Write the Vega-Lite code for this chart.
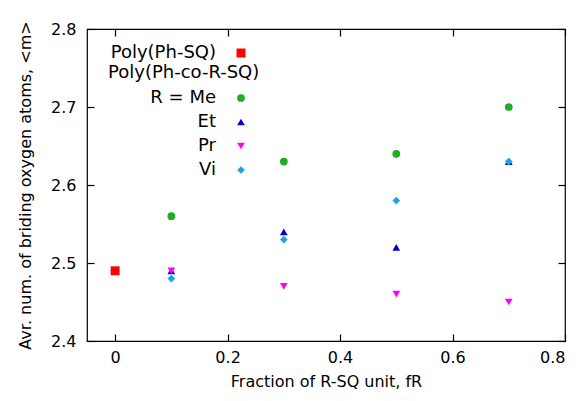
{
  "$schema": "https://vega.github.io/schema/vega-lite/v6.json",
  "width": 478,
  "height": 312,
  "autosize": {"type": "none"},
  "padding": {"left": 87, "top": 29, "right": 20, "bottom": 60},
  "background": "white",
  "config": {
    "view": {"stroke": "black", "strokeWidth": 1.2},
    "font": "DejaVu Sans",
    "axis": {"grid": false, "labelFont": "DejaVu Sans", "labelFontSize": 16, "labelColor": "black",
             "titleFont": "DejaVu Sans", "titleFontSize": 16, "titleFontWeight": "normal", "titleColor": "black"},
    "legend": {"labelFont": "DejaVu Sans", "labelFontSize": 18, "labelColor": "black",
               "titleFont": "DejaVu Sans", "titleFontSize": 18, "titleFontWeight": "normal", "titleColor": "black",
               "titleLimit": 400, "labelLimit": 400, "padding": 0}
  },
  "data": {"values": [
    {"group": "homo", "series": "Poly(Ph-SQ)", "f": 0.0, "m": 2.49},
    {"group": "co", "series": "Me", "f": 0.1, "m": 2.56},
    {"group": "co", "series": "Me", "f": 0.3, "m": 2.63},
    {"group": "co", "series": "Me", "f": 0.5, "m": 2.64},
    {"group": "co", "series": "Me", "f": 0.7, "m": 2.70},
    {"group": "co", "series": "Et", "f": 0.1, "m": 2.49},
    {"group": "co", "series": "Et", "f": 0.3, "m": 2.54},
    {"group": "co", "series": "Et", "f": 0.5, "m": 2.52},
    {"group": "co", "series": "Et", "f": 0.7, "m": 2.63},
    {"group": "co", "series": "Pr", "f": 0.1, "m": 2.49},
    {"group": "co", "series": "Pr", "f": 0.3, "m": 2.47},
    {"group": "co", "series": "Pr", "f": 0.5, "m": 2.46},
    {"group": "co", "series": "Pr", "f": 0.7, "m": 2.45},
    {"group": "co", "series": "Vi", "f": 0.1, "m": 2.48},
    {"group": "co", "series": "Vi", "f": 0.3, "m": 2.53},
    {"group": "co", "series": "Vi", "f": 0.5, "m": 2.58},
    {"group": "co", "series": "Vi", "f": 0.7, "m": 2.63}
  ]},
  "layer": [
    {
      "transform": [{"filter": "datum.group == 'homo'"}],
      "mark": {"type": "point", "filled": true, "opacity": 1, "size": 80},
      "encoding": {
        "x": {"field": "f", "type": "quantitative",
              "scale": {"domain": [-0.05, 0.8], "nice": false, "zero": false},
              "axis": {"orient": "bottom", "values": [0, 0.2, 0.4, 0.6, 0.8], "format": ".1~f",
                       "domain": false, "ticks": true, "tickSize": -7, "tickColor": "black", "tickWidth": 1.2, "labelPadding": 15,
                       "title": "Fraction of R-SQ unit, fR", "titlePadding": 8}},
        "y": {"field": "m", "type": "quantitative",
              "scale": {"domain": [2.4, 2.8], "nice": false, "zero": false},
              "axis": {"orient": "left", "values": [2.4, 2.5, 2.6, 2.7, 2.8], "format": ".1f",
                       "domain": false, "ticks": true, "tickSize": -7, "tickColor": "black", "tickWidth": 1.2, "labelPadding": 18,
                       "title": "Avr. num. of briding oxygen atoms, <m>", "titlePadding": 17}},
        "color": {"field": "series", "type": "nominal",
                  "scale": {"domain": ["Poly(Ph-SQ)"], "range": ["#ff0000"]},
                  "legend": {"orient": "none", "legendX": 21, "legendY": 15, "title": null,
                             "labelAlign": "right", "labelOffset": -34, "symbolOffset": 124, "symbolSize": 80}},
        "shape": {"field": "series", "type": "nominal",
                  "scale": {"domain": ["Poly(Ph-SQ)"], "range": ["square"]},
                  "legend": {"orient": "none", "legendX": 21, "legendY": 15, "title": null,
                             "labelAlign": "right", "labelOffset": -34, "symbolOffset": 124, "symbolSize": 80}}
      }
    },
    {
      "transform": [{"filter": "datum.group == 'co'"}],
      "mark": {"type": "point", "filled": true, "opacity": 1, "size": 60},
      "encoding": {
        "x": {"field": "f", "type": "quantitative",
              "axis": {"orient": "top", "values": [0, 0.2, 0.4, 0.6, 0.8], "labels": false, "title": null,
                       "domain": false, "ticks": true, "tickSize": -7, "tickColor": "black", "tickWidth": 1.2}},
        "y": {"field": "m", "type": "quantitative",
              "axis": {"orient": "right", "values": [2.4, 2.5, 2.6, 2.7, 2.8], "labels": false, "title": null,
                       "domain": false, "ticks": true, "tickSize": -7, "tickColor": "black", "tickWidth": 1.2}},
        "color": {"field": "series", "type": "nominal",
                  "scale": {"domain": ["Me", "Et", "Pr", "Vi"], "range": ["#1fae1f", "#0000cd", "#ff00ff", "#1ea3ea"]},
                  "legend": {"orient": "none", "legendX": 21, "legendY": 35, "title": "Poly(Ph-co-R-SQ)",
                             "titlePadding": 7, "rowPadding": 6,
                             "labelExpr": "datum.label == 'Me' ? 'R = Me' : datum.label",
                             "labelAlign": "right", "labelOffset": -34, "symbolOffset": 124, "symbolSize": 60}},
        "shape": {"field": "series", "type": "nominal",
                  "scale": {"domain": ["Me", "Et", "Pr", "Vi"], "range": ["circle", "triangle-up", "triangle-down", "diamond"]},
                  "legend": {"orient": "none", "legendX": 21, "legendY": 35, "title": "Poly(Ph-co-R-SQ)",
                             "titlePadding": 7, "rowPadding": 6,
                             "labelExpr": "datum.label == 'Me' ? 'R = Me' : datum.label",
                             "labelAlign": "right", "labelOffset": -34, "symbolOffset": 124, "symbolSize": 60}}
      }
    }
  ],
  "resolve": {
    "scale": {"color": "independent", "shape": "independent"},
    "axis": {"x": "independent", "y": "independent"}
  }
}
